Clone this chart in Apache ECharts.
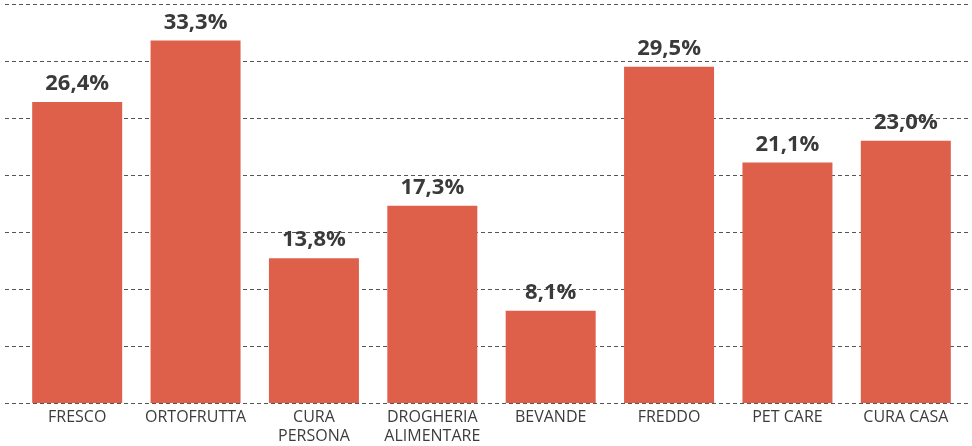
<!DOCTYPE html>
<html><head><meta charset="utf-8">
<script src="https://cdn.jsdelivr.net/npm/echarts@6/dist/echarts.min.js"></script>
<style>html,body{margin:0;padding:0;background:#fff}#c{width:972px;height:446px}</style>
</head><body><div id="c"></div>
<script>
// Categories, as printed under the bars
const categories = ["FRESCO","ORTOFRUTTA","CURA\nPERSONA","DROGHERIA\nALIMENTARE","BEVANDE","FREDDO","PET CARE","CURA CASA"];
const barHeights = [26.4, 31.8, 12.7, 17.3, 8.1, 29.5, 21.1, 23.0];
// Values printed above the bars
const printedLabels = ["26,4%", "33,3%", "13,8%", "17,3%", "8,1%", "29,5%", "21,1%", "23,0%"];
const yMin = 0, yMax = 35, yInterval = 5;

const chart = echarts.init(document.getElementById('c'));
const fontFam = '"Open Sans", "Noto Sans", sans-serif';
chart.setOption({
  animation: false,
  grid: [
    {left: 5, right: 2, top: 4, bottom: 43},
    {left: 18, right: 7, top: 4, bottom: 43}
  ],
  xAxis: [
    {gridIndex: 0, type: 'category', data: categories, show: false},
    {gridIndex: 1, type: 'category', data: categories,
     axisLine: {show: false}, axisTick: {show: false},
     axisLabel: {color: '#3c3c3c', fontSize: 16, fontFamily: fontFam, margin: 5, lineHeight: 19, interval: 0}}
  ],
  yAxis: [
    {gridIndex: 0, type: 'value', min: yMin, max: yMax, interval: yInterval,
     axisLabel: {show: false}, axisLine: {show: false}, axisTick: {show: false},
     splitLine: {show: true, lineStyle: {color: '#555', type: [4, 3], width: 1}}},
    {gridIndex: 1, type: 'value', min: yMin, max: yMax, interval: yInterval, show: false,
     splitLine: {show: false}}
  ],
  series: [{
    type: 'bar', xAxisIndex: 1, yAxisIndex: 1, data: barHeights, barWidth: 90,
    itemStyle: {color: '#de604b'},
    label: {show: true, position: 'top', distance: 7, color: '#3a3a3a', fontSize: 22,
      fontWeight: 'bold', fontFamily: fontFam,
      formatter: p => printedLabels[p.dataIndex]}
  }]
});
</script></body></html>
